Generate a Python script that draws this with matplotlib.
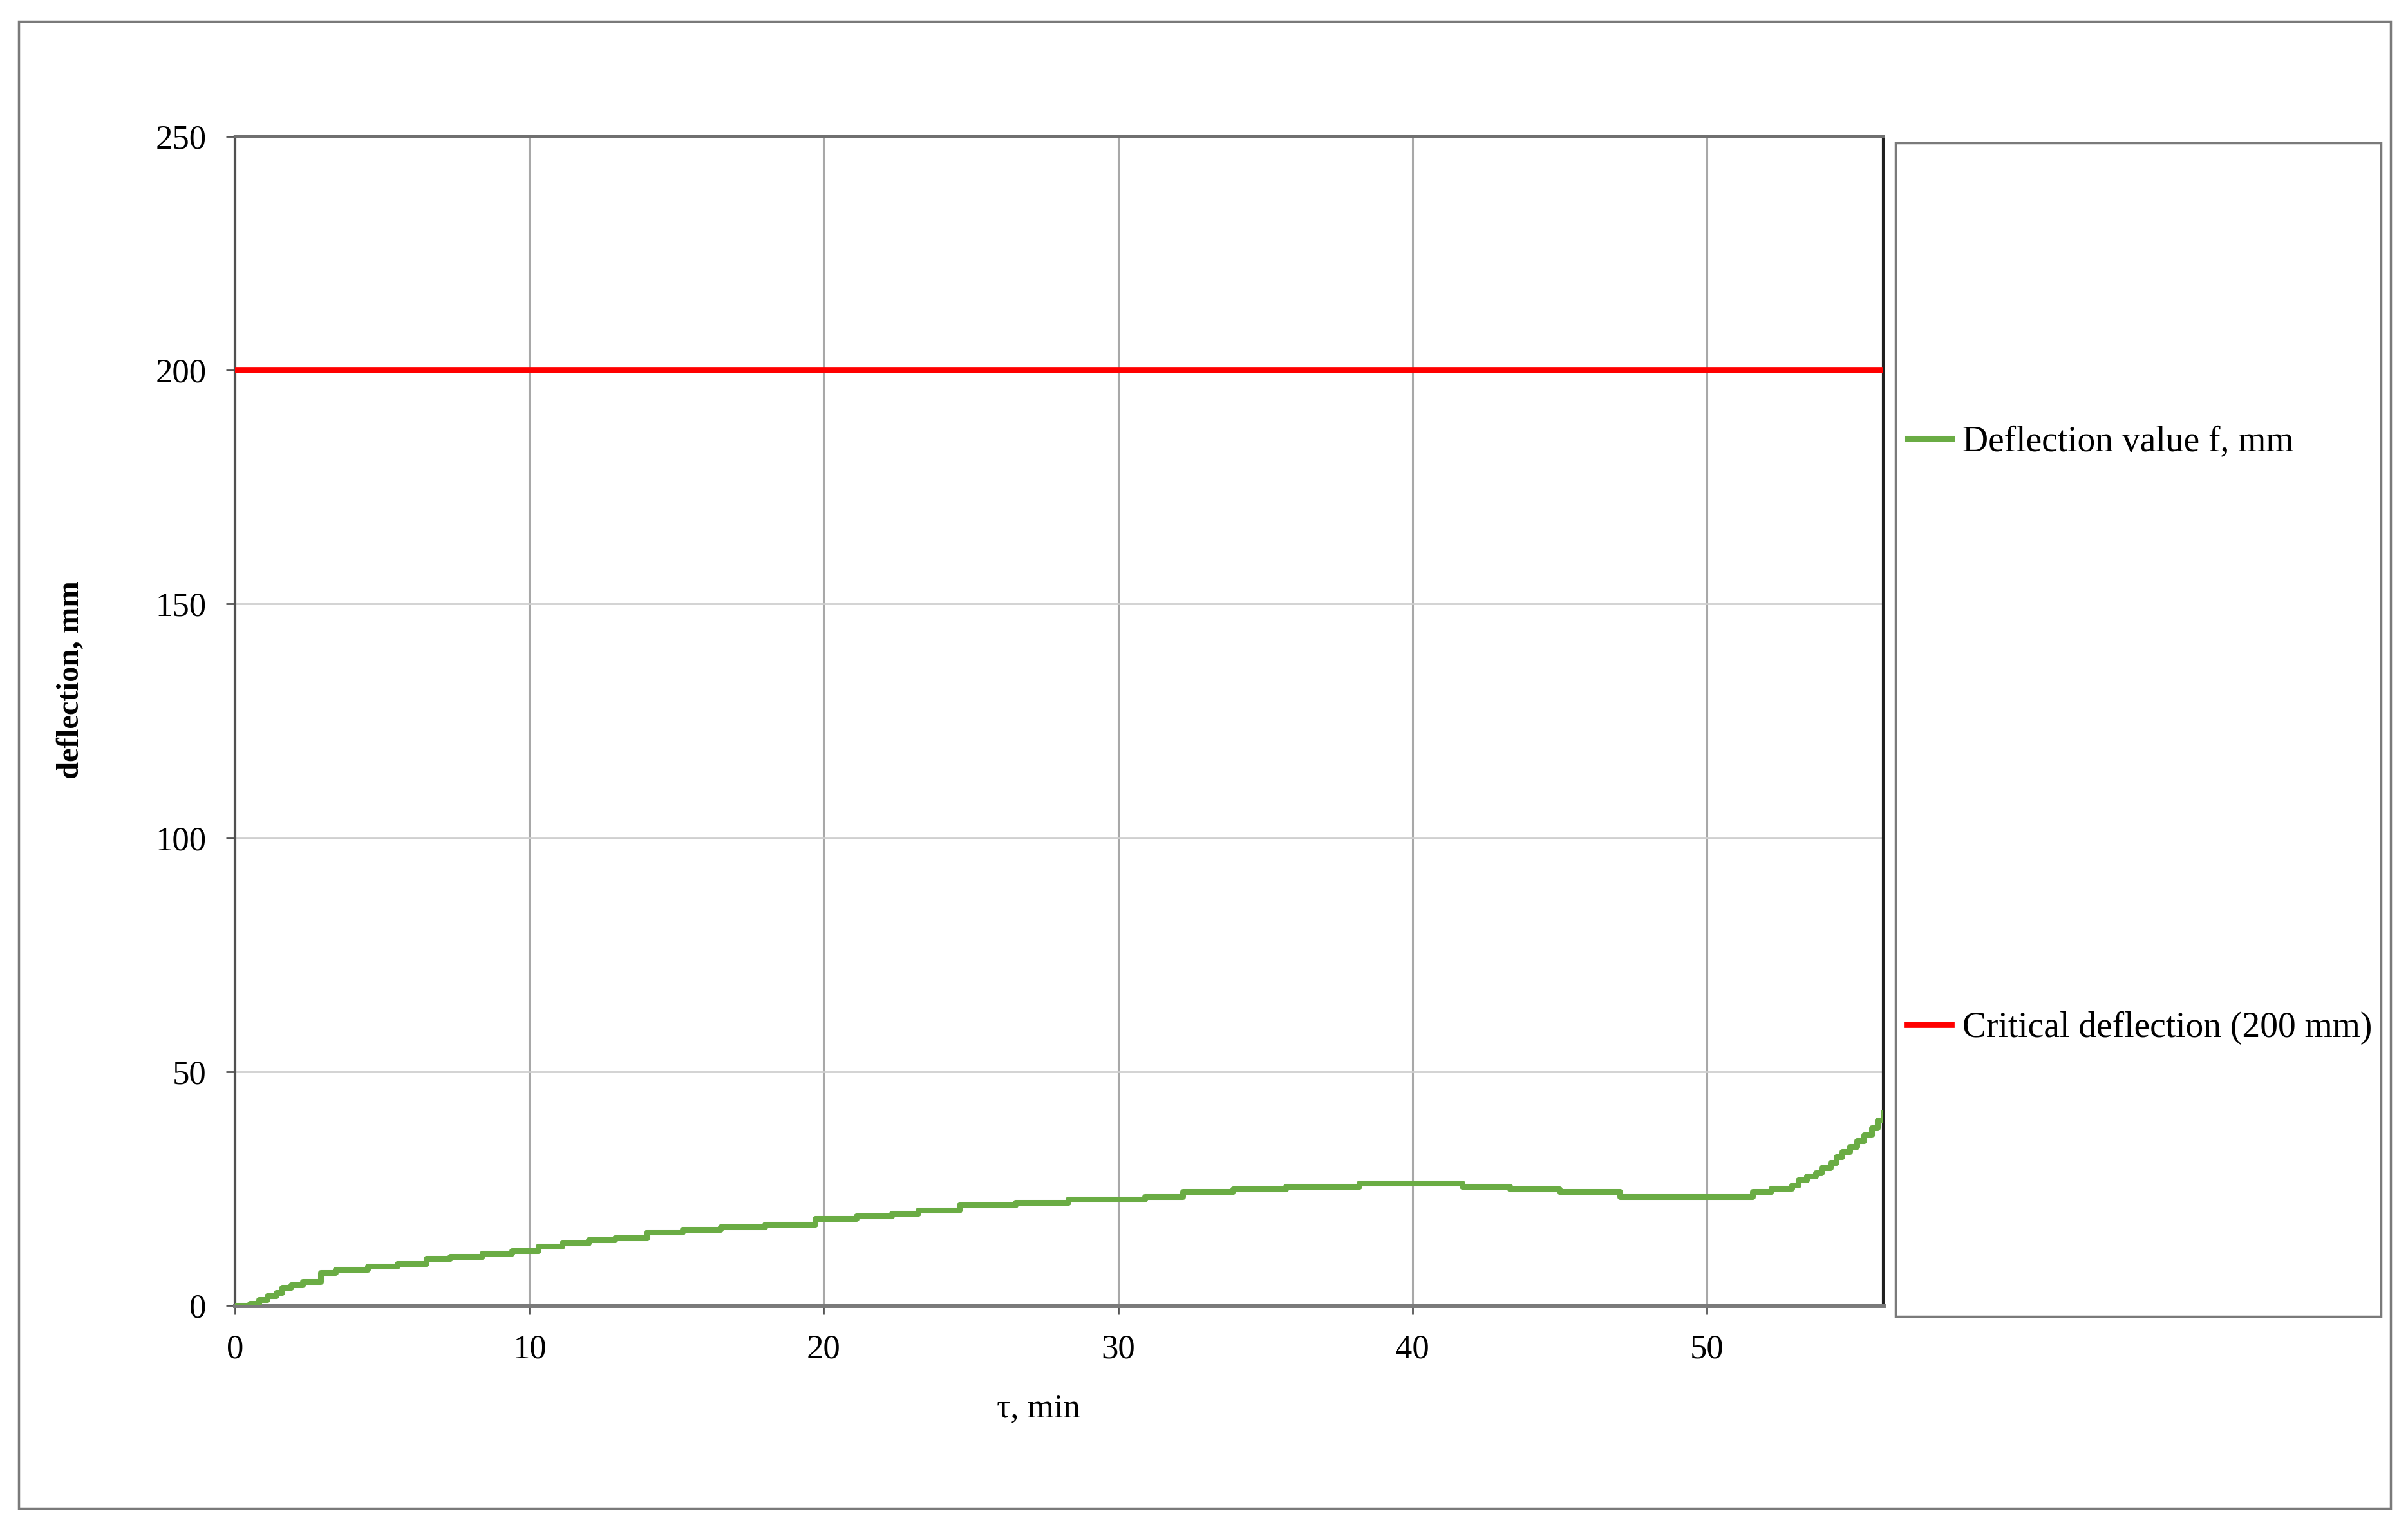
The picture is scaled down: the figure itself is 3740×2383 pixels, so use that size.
import matplotlib
matplotlib.use("Agg")
import matplotlib.pyplot as plt
from matplotlib.patches import Rectangle

# deflection readings (step start time, value held until next step)
t_min = [0.0, 0.5, 0.8, 1.1, 1.4, 1.6, 1.9, 2.3, 2.9, 3.4, 4.5, 5.5, 6.5, 7.3, 8.4, 9.4,
         10.3, 11.1, 12.0, 12.9, 14.0, 15.2, 16.5, 18.0, 19.7, 21.1, 22.3, 23.2, 24.6,
         26.5, 28.3, 30.9, 32.2, 33.9, 35.7, 38.2, 41.7, 43.3, 45.0, 47.05, 51.55,
         52.2, 52.9, 53.1, 53.4, 53.7, 53.9, 54.2, 54.4, 54.6, 54.85, 55.1, 55.35,
         55.6, 55.8, 56.0]
deflection = [0.0, 0.4, 1.2, 2.0, 2.8, 3.8, 4.4, 5.1, 7.0, 7.7, 8.35, 8.9, 10.0, 10.5, 11.1,
              11.7, 12.7, 13.4, 14.0, 14.5, 15.7, 16.3, 16.8, 17.4, 18.6, 19.1, 19.7,
              20.3, 21.4, 22.0, 22.7, 23.3, 24.3, 24.9, 25.5, 26.1, 25.4, 24.9, 24.3,
              23.2, 24.3, 25.0, 25.8, 26.8, 27.6, 28.4, 29.4, 30.6, 31.8, 32.9, 34.0,
              35.3, 36.5, 38.0, 39.6, 41.2]
critical = 200
x_ticks = [0, 10, 20, 30, 40, 50]
y_ticks = [0, 50, 100, 150, 200, 250]

plt.rcParams['font.family'] = ['Liberation Serif', 'DejaVu Serif']

fig = plt.figure(figsize=(37.41, 23.83), dpi=100)
ax = fig.add_axes([0.0976, 0.1490, 0.6843, 0.7620])

line_f, = ax.step(t_min, deflection, where='post', color='#6aac44', lw=6.5,
                  label='Deflection value f, mm', zorder=3)
line_c = ax.axhline(critical, color='#ff0000', lw=7, label='Critical deflection (200 mm)',
                    zorder=3)

ax.set_xlim(0, 56)
ax.set_ylim(0, 250)
ax.set_xticks(x_ticks)
ax.set_yticks(y_ticks)
ax.tick_params(axis='both', direction='out', length=10, width=2, labelsize=38, pad=22,
               color='#555555')

# grid: darker verticals, light horizontals
ax.xaxis.grid(True, color='#a8a8a8', lw=2.2)
ax.yaxis.grid(True, color='#cfcfcf', lw=2)
ax.set_axisbelow(True)

ax.spines['left'].set_color('#505050')
ax.spines['left'].set_linewidth(3)
ax.spines['top'].set_color('#707070')
ax.spines['top'].set_linewidth(3)
ax.spines['right'].set_color('#202020')
ax.spines['right'].set_linewidth(3)
ax.spines['bottom'].set_color('#7a7a7a')
ax.spines['bottom'].set_linewidth(5)

ax.set_xlabel('τ, min', fontsize=38)
ax.xaxis.set_label_coords(0.4875, -0.075)
ax.set_ylabel('deflection, mm', fontsize=35, fontweight='bold', va='center')
ax.yaxis.set_label_coords(-0.0996, 0.535)

# outer chart border
fig.patches.append(Rectangle((29 / 3741, 1 - 2343 / 2383), (3713 - 29) / 3741,
                             (2343 - 33) / 2383, transform=fig.transFigure,
                             fill=False, edgecolor='#7a7a7a', lw=2.5))
# legend box
fig.patches.append(Rectangle((2944 / 3741, 1 - 2045 / 2383), (3698 - 2944) / 3741,
                             (2045 - 222) / 2383, transform=fig.transFigure,
                             fill=False, edgecolor='#7a7a7a', lw=2.5))

fig.legend(handles=[line_f, line_c], loc='center left',
           bbox_to_anchor=(2962 / 3741, 1 - 1142 / 2383), frameon=False,
           fontsize=40, handlelength=1.25, handletextpad=0.3, labelspacing=15.45,
           borderpad=0, borderaxespad=0)

fig.savefig('out.png', dpi=100, facecolor='white')
